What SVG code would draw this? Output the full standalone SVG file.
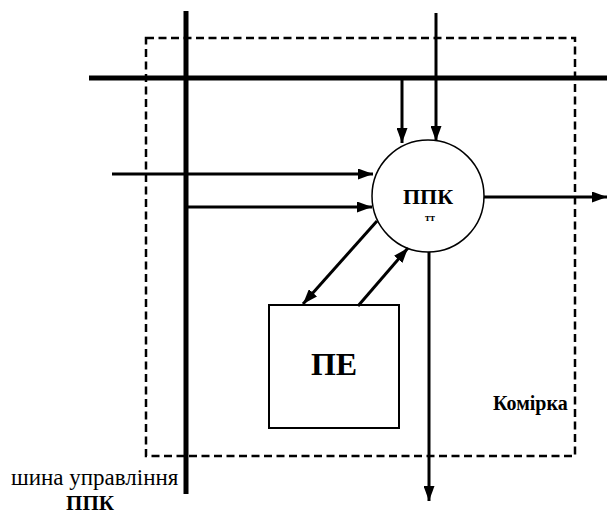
<svg xmlns="http://www.w3.org/2000/svg" width="607" height="515" viewBox="0 0 607 515">
<style>
.bus{stroke:#000;stroke-width:5;fill:none}
.ln{stroke:#000;stroke-width:3;fill:none}
.dash{stroke:#000;stroke-width:2.5;fill:none;stroke-dasharray:8,4.5}
.t{font-family:"Liberation Serif","Times New Roman",serif;fill:#000}
.b{font-weight:bold}
</style>
<defs>
<marker id="ah" viewBox="0 0 15 11" refX="15" refY="5.5" markerWidth="15" markerHeight="11" markerUnits="userSpaceOnUse" orient="auto">
<path d="M0,0 L15,5.5 L0,11 Z" fill="#000"/>
</marker>
</defs>
<g id="cell">
<rect class="dash" x="146" y="38" width="429" height="418"/>
<text class="t b" x="493" y="410" font-size="20">Комірка</text>
</g>
<g id="buses">
<line class="bus" x1="186" y1="11" x2="186" y2="494"/>
<line class="bus" x1="89" y1="78" x2="607" y2="78"/>
</g>
<g id="ppk">
<circle cx="428" cy="196" r="56" fill="#fff" stroke="#000" stroke-width="1.5"/>
<text class="t b" x="428" y="204" font-size="22" text-anchor="middle">ППК</text>
<text class="t b" x="430" y="221" font-size="10" text-anchor="middle">тт</text>
</g>
<g id="pe">
<rect x="269" y="305" width="130" height="123" fill="#fff" stroke="#000" stroke-width="2"/>
<text class="t b" x="334" y="375" font-size="32" text-anchor="middle">ПЕ</text>
</g>
<g id="connectors">
<line class="ln" x1="402" y1="78" x2="402" y2="143" marker-end="url(#ah)"/>
<line class="ln" x1="436" y1="13" x2="436" y2="141" marker-end="url(#ah)"/>
<line class="ln" x1="112" y1="174" x2="373" y2="174" marker-end="url(#ah)"/>
<line class="ln" x1="184" y1="207" x2="372" y2="207" marker-end="url(#ah)"/>
<line class="ln" x1="484" y1="197" x2="607" y2="197" marker-end="url(#ah)"/>
<line class="ln" x1="429" y1="252" x2="429" y2="501" marker-end="url(#ah)"/>
<line class="ln" x1="377" y1="221" x2="303" y2="304" marker-end="url(#ah)"/>
<line class="ln" x1="358" y1="306" x2="408" y2="248" marker-end="url(#ah)"/>
</g>
<g id="label">
<text class="t" x="11" y="485" font-size="23">шина управління</text>
<text class="t b" x="90" y="510" font-size="21" text-anchor="middle">ППК</text>
</g>
</svg>
